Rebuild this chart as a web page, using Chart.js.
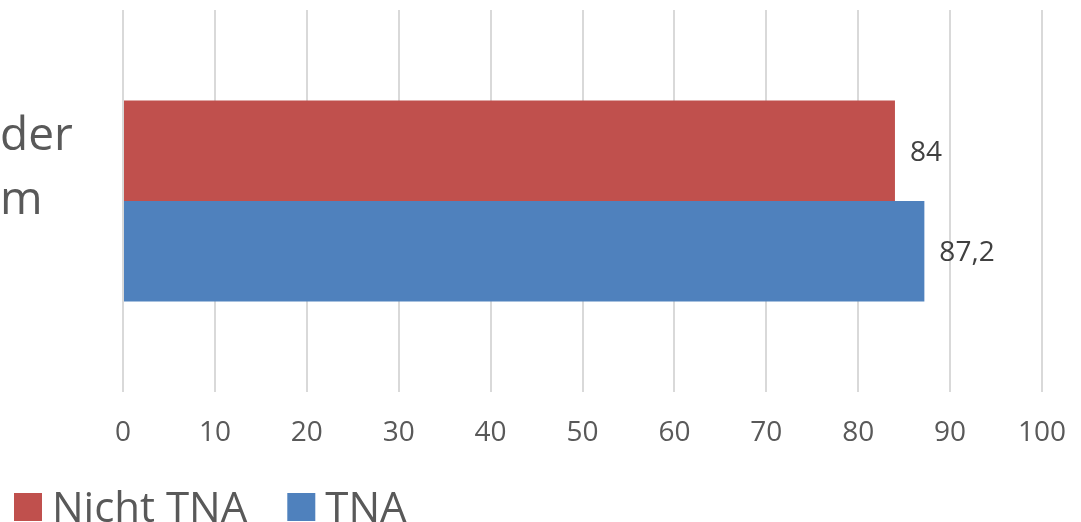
<!DOCTYPE html>
<html>
<head>
<meta charset="utf-8">
<script src="https://cdn.jsdelivr.net/npm/chart.js@4.4.1/dist/chart.umd.min.js"></script>
<style>
  html, body { margin: 0; padding: 0; background: #ffffff; }
  #wrap { width: 1081px; height: 522px; overflow: hidden; }
</style>
</head>
<body>
<div id="wrap"><canvas id="c" width="1081" height="522"></canvas></div>
<script>
// ---- data ----
const categories = [["der", "m", ""]];
const seriesNames = ["Nicht TNA", "TNA"];
const nichtTnaValues = [84];
const tnaValues = [87.2];
const xTicks = [0, 10, 20, 30, 40, 50, 60, 70, 80, 90, 100];
const seriesColors = ["#C0504D", "#4F81BD"];

const FONT = "'Open Sans', 'Noto Sans', sans-serif";

const dataLabels = {
  id: 'dataLabels',
  afterDatasetsDraw(chart) {
    const ctx = chart.ctx;
    ctx.save();
    ctx.font = "28px " + FONT;
    ctx.fillStyle = "#404040";
    ctx.textAlign = "left";
    ctx.textBaseline = "middle";
    chart.data.datasets.forEach((ds, i) => {
      const meta = chart.getDatasetMeta(i);
      meta.data.forEach((el, j) => {
        const v = ds.data[j];
        const txt = String(v).replace('.', ',');
        ctx.fillText(txt, el.x + 15, el.y + 2);
      });
    });
    ctx.restore();
  }
};

const bottomLegend = {
  id: 'bottomLegend',
  afterDraw(chart) {
    const ctx = chart.ctx;
    ctx.save();
    ctx.font = "42px " + FONT;
    ctx.textBaseline = "alphabetic";
    ctx.textAlign = "left";
    let x = 14;
    chart.data.datasets.forEach((ds) => {
      ctx.fillStyle = ds.backgroundColor;
      ctx.fillRect(x, 493, 28, 28);
      ctx.fillStyle = "#595959";
      const tx = x + 38;
      ctx.fillText(ds.label, tx, 522);
      x = tx + ctx.measureText(ds.label).width + 40;
    });
    ctx.restore();
  }
};

new Chart(document.getElementById('c'), {
  type: 'bar',
  data: {
    labels: categories,
    datasets: [
      { label: seriesNames[0], data: nichtTnaValues, backgroundColor: seriesColors[0] },
      { label: seriesNames[1], data: tnaValues, backgroundColor: seriesColors[1] }
    ]
  },
  options: {
    indexAxis: 'y',
    responsive: false,
    animation: false,
    devicePixelRatio: 1,
    layout: { padding: { top: 10, right: 39, left: 0, bottom: 0 } },
    datasets: { bar: { categoryPercentage: 0.526, barPercentage: 1.0 } },
    plugins: {
      legend: { display: false },
      tooltip: { enabled: false }
    },
    scales: {
      x: {
        min: 0, max: 100,
        afterBuildTicks(scale) { scale.ticks = xTicks.map(v => ({ value: v })); },
        afterFit(scale) {
          scale.height = 130;
          scale.paddingLeft = 0; scale.paddingRight = 0;
        },
        grid: { color: "#D9D9D9", lineWidth: 2, drawTicks: false },
        border: { display: false },
        ticks: {
          padding: 24,
          color: "#595959",
          font: { family: FONT, size: 28 },
          maxRotation: 0
        }
      },
      y: {
        afterFit(scale) {
          scale.width = 123;
          scale.paddingTop = 0; scale.paddingBottom = 0;
        },
        grid: { display: false, drawTicks: false },
        border: { display: false },
        ticks: {
          crossAlign: 'far',
          color: "#595959",
          font: { family: FONT, size: 46, lineHeight: 1.4 }
        }
      }
    }
  },
  plugins: [dataLabels, bottomLegend]
});
</script>
</body>
</html>
